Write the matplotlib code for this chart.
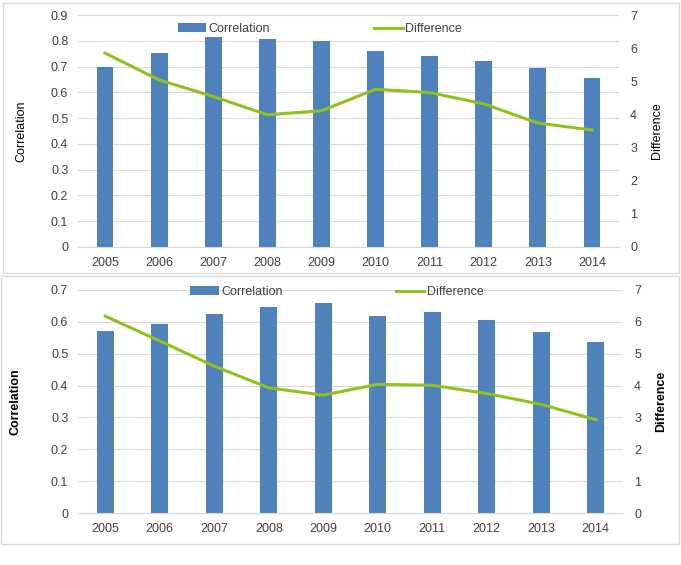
import matplotlib
matplotlib.use("Agg")
import matplotlib.pyplot as plt
from matplotlib.patches import Rectangle
import numpy as np

years = ["2005", "2006", "2007", "2008", "2009", "2010", "2011", "2012", "2013", "2014"]

corr_top = [0.70, 0.753, 0.816, 0.807, 0.801, 0.761, 0.740, 0.721, 0.694, 0.654]
diff_top = [5.85, 5.04, 4.54, 3.99, 4.11, 4.76, 4.66, 4.32, 3.74, 3.53]

corr_bottom = [0.571, 0.594, 0.626, 0.647, 0.660, 0.619, 0.632, 0.606, 0.568, 0.537]
diff_bottom = [6.18, 5.40, 4.61, 3.93, 3.70, 4.04, 4.01, 3.75, 3.41, 2.93]

BAR = "#4F81BD"
LINE = "#92C11E"
GRID = "#D9D9D9"
TEXT = "#404040"

plt.rcParams["font.family"] = ["Liberation Sans", "DejaVu Sans"]
plt.rcParams["font.size"] = 9


def draw_panel(fig, rect, corr, diff, ymax, bold, leg_pos, colspace, lpad):
    ax = fig.add_axes(rect)
    x = np.arange(len(years))
    ax.bar(x, corr, width=0.31, color=BAR, label="Correlation", zorder=2)
    ax.set_xlim(-0.5, len(years) - 0.5)
    ax.set_ylim(0, ymax)
    ticks = np.round(np.arange(0, ymax + 0.001, 0.1), 1)
    ax.set_yticks(ticks)
    ax.set_yticklabels([f"{v:g}" for v in ticks])
    ax.set_xticks(x)
    ax.set_xticklabels(years)
    ax.yaxis.grid(True, color=GRID, linewidth=0.8, zorder=0)
    ax.set_axisbelow(True)
    for s in ["top", "right", "left"]:
        ax.spines[s].set_visible(False)
    ax.spines["bottom"].set_color(GRID)
    ax.tick_params(length=0, colors=TEXT, labelsize=9, pad=7)
    ax.tick_params(axis="y", pad=7)
    weight = "bold" if bold else "normal"
    ax.set_ylabel("Correlation", color="black", fontsize=9, fontweight=weight, labelpad=lpad)

    ax2 = ax.twinx()
    ax2.plot(x, diff, color=LINE, linewidth=2.2, label="Difference", zorder=3)
    ax2.set_ylim(0, 7)
    ax2.set_yticks(range(0, 8))
    for s in ["top", "right", "left", "bottom"]:
        ax2.spines[s].set_visible(False)
    ax2.tick_params(length=0, colors=TEXT, labelsize=9, pad=8)
    ax2.set_ylabel("Difference", color="black", fontsize=9, fontweight=weight, labelpad=10)

    h1, l1 = ax.get_legend_handles_labels()
    h2, l2 = ax2.get_legend_handles_labels()
    leg = ax2.legend(h1 + h2, l1 + l2, loc="center", bbox_to_anchor=leg_pos,
                     ncol=2, frameon=False, fontsize=9, columnspacing=colspace,
                     handlelength=2.3, handletextpad=0.2)
    for t in leg.get_texts():
        t.set_color(TEXT)
    return ax


fig = plt.figure(figsize=(6.81, 5.65), dpi=100)

fig.patches.append(Rectangle((3 / 681, 1 - 273 / 565), 676 / 681, 270 / 565,
                             transform=fig.transFigure, fill=False,
                             edgecolor=GRID, linewidth=1))
fig.patches.append(Rectangle((1 / 681, 1 - 544 / 565), 678 / 681, 268 / 565,
                             transform=fig.transFigure, fill=False,
                             edgecolor=GRID, linewidth=1))

draw_panel(fig, [78 / 681, 1 - 247 / 565, 541 / 681, 232 / 565],
           corr_top, diff_top, 0.9, False, (0.447, 0.94), 8.3, 17)
draw_panel(fig, [78 / 681, 1 - 513 / 565, 545 / 681, 223 / 565],
           corr_bottom, diff_bottom, 0.7, True, (0.475, 0.991), 9.0, 21)

fig.savefig("out.png", dpi=100)
